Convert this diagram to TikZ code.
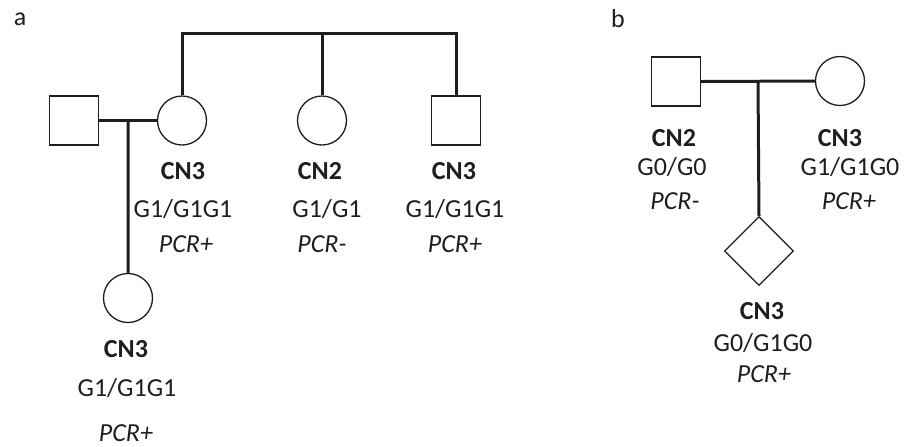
\documentclass[tikz,border=0pt]{standalone}
\usepackage{fontspec}
\setmainfont{Carlito}
\usetikzlibrary{calc}
\usetikzlibrary{positioning}
\usetikzlibrary{shapes.geometric}

\definecolor{ink}{HTML}{1E1E1E}

\tikzset{
  male/.style={draw,rectangle,minimum size=24.5pt,inner sep=0pt,line width=0.65pt},
  female/.style={draw,circle,minimum size=24.5pt,inner sep=0pt,line width=0.65pt},
  unknown/.style={draw,diamond,minimum width=34.5pt,minimum height=34.5pt,inner sep=0pt,line width=0.65pt},
  link/.style={line width=1.5pt},
  txt/.style={anchor=base,inner sep=0pt,text=ink,font=\fontsize{13}{15}\selectfont},
  cn/.style={txt,font=\fontsize{13}{15}\selectfont\bfseries},
  pcr/.style={txt,font=\fontsize{13}{15}\selectfont\itshape}
}

\begin{document}
\begin{tikzpicture}[x=0.5pt,y=-0.5pt,draw=ink]
\useasboundingbox (0,0) rectangle (911,446);

% panel a
\node[txt] (labA) at (20,25) {a};

\node[male] (fatherA) at (74,120.5) {};
\node[female] (motherA) at (182,120.5) {};
\node[female] (sisA) at (322,120.5) {};
\node[male] (broA) at (456,120.5) {};
\node[female] (childA) at (128,298) {};

\coordinate (sibA) at (322,33);
\draw[link] (motherA.north) |- (sibA) -| (broA.north);
\draw[link] (sibA) -- (sisA.north);

\draw[link] (fatherA.east) -- (motherA.west);
\coordinate (descA) at ($(fatherA.east)!0.5!(motherA.west)$);
\draw[link] (descA) -- (childA.north);

\node[cn] (cnMotherA) at (183,179) {CN3};
\node[txt] (gtMotherA) at (183,217) {G1/G1G1};
\node[pcr] (pcrMotherA) at (186,252) {PCR+};

\node[cn] (cnSisA) at (320,179) {CN2};
\node[txt] (gtSisA) at (327,217) {G1/G1};
\node[pcr] (pcrSisA) at (322,252) {PCR-};

\node[cn] (cnBroA) at (454,179) {CN3};
\node[txt] (gtBroA) at (455,217) {G1/G1G1};
\node[pcr] (pcrBroA) at (455,252) {PCR+};

\node[cn] (cnChildA) at (126,357) {CN3};
\node[txt] (gtChildA) at (127,396) {G1/G1G1};
\node[pcr] (pcrChildA) at (126,441) {PCR+};

% panel b
\node[txt] (labB) at (618,27) {b};

\node[male] (fatherB) at (676,81.5) {};
\node[female] (motherB) at (840,81) {};
\node[unknown] (childB) at (759,251) {};

\draw[link] (fatherB.east) -- (motherB.west);
\coordinate (descB) at ($(fatherB.east)!0.5!(motherB.west)$);
\draw[link] (descB) -- (childB.north);

\node[cn] (cnFatherB) at (674,146) {CN2};
\node[txt] (gtFatherB) at (672,175) {G0/G0};
\node[pcr] (pcrFatherB) at (675,209) {PCR-};

\node[cn] (cnMotherB) at (840,146) {CN3};
\node[txt] (gtMotherB) at (850,175) {G1/G1G0};
\node[pcr] (pcrMotherB) at (849,209) {PCR+};

\node[cn] (cnChildB) at (762,319) {CN3};
\node[txt] (gtChildB) at (763,351) {G0/G1G0};
\node[pcr] (pcrChildB) at (764,382) {PCR+};

\end{tikzpicture}
\end{document}
